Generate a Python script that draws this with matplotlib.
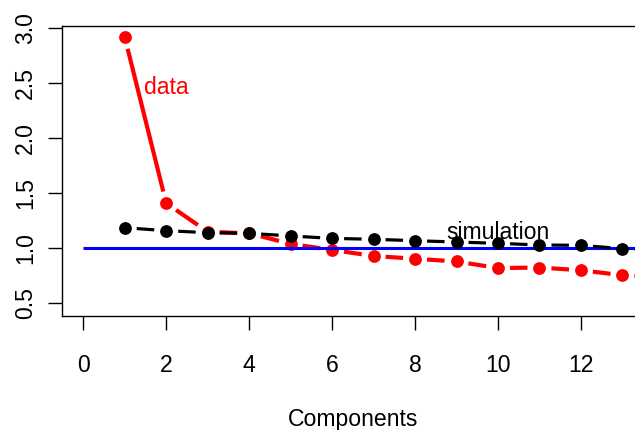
import numpy as np
import matplotlib
matplotlib.use("Agg")
import matplotlib.pyplot as plt

plt.rcParams["font.family"] = ["Liberation Sans", "DejaVu Sans"]
text_fs = 16.6
plt.rcParams["xtick.labelsize"] = text_fs
plt.rcParams["ytick.labelsize"] = text_fs

# Eigenvalues of the observed data and of simulated (random) data
components = [1, 2, 3, 4, 5, 6, 7, 8, 9, 10, 11, 12, 13, 14]
eig_data = [2.92, 1.41, 1.15, 1.136, 1.04, 0.985, 0.93, 0.905, 0.88, 0.82, 0.825, 0.80, 0.755, 0.74]
eig_sim = [1.187, 1.16, 1.142, 1.136, 1.112, 1.09, 1.082, 1.069, 1.057, 1.045, 1.03, 1.027, 0.996, 0.99]
reference_level = 1.0
x_ticks = [0, 2, 4, 6, 8, 10, 12]
y_ticks = [0.5, 1.0, 1.5, 2.0, 2.5, 3.0]

W, H, DPI = 635, 430, 100
fig = plt.figure(figsize=(W / DPI, H / DPI), dpi=DPI)

# plot region (extends a little past the right edge of the canvas)
left_px, right_px, top_px, bottom_px = 61.7, 644.0, 25.7, 315.7
ax = fig.add_axes([left_px / W, 1 - bottom_px / H,
                   (right_px - left_px) / W, (bottom_px - top_px) / H])
ax.set_xlim(-0.52, 13.52)
ax.set_ylim(0.387, 3.024)

for side in ("left", "top", "bottom", "right"):
    ax.spines[side].set_linewidth(1.0)
    ax.spines[side].set_color("black")

ax.set_xticks(x_ticks, [str(v) for v in x_ticks])
ax.set_yticks(y_ticks, [f"{v:.1f}" for v in y_ticks])
ax.tick_params(axis="x", length=13.5 / DPI * 72, width=1.0, pad=18,
               labelsize=text_fs)
ax.tick_params(axis="y", length=13.5 / DPI * 72, width=1.0, pad=8,
               labelsize=text_fs, labelrotation=90)
for lab in ax.get_yticklabels():
    lab.set_va("center")


def gapped_lines(ax, xs, ys, color, lw, gap_px, zorder):
    """Connect consecutive points with segments that stop short of each point."""
    pts = ax.transData.transform(np.column_stack([xs, ys]))
    inv = ax.transData.inverted()
    for p0, p1 in zip(pts[:-1], pts[1:]):
        d = p1 - p0
        L = np.hypot(*d)
        if L <= 2 * gap_px:
            continue
        u = d / L
        a = inv.transform(p0 + u * gap_px)
        b = inv.transform(p1 - u * gap_px)
        ax.plot([a[0], b[0]], [a[1], b[1]], color=color, lw=lw,
                solid_capstyle="butt", zorder=zorder)


ms = 9.2
# observed data
gapped_lines(ax, components, eig_data, "#ff0000", 3.0, 12, 2)
ax.plot(components, eig_data, ls="none", marker="o", ms=ms, mew=0,
        color="#ff0000", zorder=2)

# reference line at eigenvalue 1
ax.plot([0, len(components)], [reference_level, reference_level],
        color="#0000ff", lw=2.2, zorder=3, solid_capstyle="butt")

# simulated data
gapped_lines(ax, components, eig_sim, "black", 2.3, 12, 4)
ax.plot(components, eig_sim, ls="none", marker="o", ms=ms, mew=0,
        color="black", zorder=4)

ax.text(2, 2.4, "data", color="#ff0000", fontsize=text_fs, ha="center", va="baseline")
ax.text(10, 1.082, "simulation", color="black", fontsize=text_fs, ha="center", va="baseline")

ax.set_xlabel("Components", fontsize=text_fs)
ax.xaxis.label.set_va("baseline")
ax.xaxis.set_label_coords(0.5, (bottom_px - 426) / (bottom_px - top_px))

fig.savefig("out.png", dpi=DPI)
